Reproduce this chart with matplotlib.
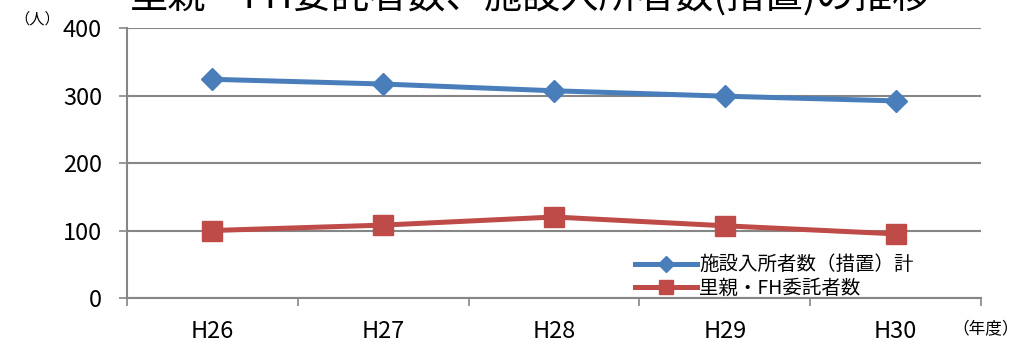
import matplotlib.pyplot as plt
from matplotlib.ticker import FixedLocator

plt.rcParams['font.family'] = ['Noto Sans CJK JP', 'DejaVu Sans']

years = ['H26', 'H27', 'H28', 'H29', 'H30']
shisetsu = [324, 317, 307, 299, 292]
satooya = [100, 108, 120, 107, 95]

fig = plt.figure(figsize=(10.33, 3.47), dpi=100)
ax = fig.add_axes([0.1229, 0.1412, 0.8268, 0.7781])

x = range(len(years))
ax.plot(x, shisetsu, color='#4A7EBB', lw=3.6, marker='D', ms=11,
        label='施設入所者数（措置）計', zorder=3)
ax.plot(x, satooya, color='#BE4B48', lw=3.6, marker='s', ms=15,
        label='里親・FH委託者数', zorder=3)

ax.set_xlim(-0.5, 4.5)
ax.set_ylim(0, 400)
ax.set_yticks([0, 100, 200, 300, 400])
ax.set_xticks(list(x))
ax.set_xticklabels(years)
ax.xaxis.set_minor_locator(FixedLocator([i - 0.5 for i in range(6)]))
ax.tick_params(axis='x', which='major', length=0, pad=16, labelsize=17)
ax.tick_params(axis='x', which='minor', length=6, color='#868686', width=1.2)
ax.tick_params(axis='y', length=6, color='#868686', width=1.2, labelsize=17, pad=12)

ax.grid(axis='y', color='#868686', lw=1.5)
ax.set_axisbelow(True)
for s in ['top', 'right']:
    ax.spines[s].set_visible(False)
for s in ['left', 'bottom']:
    ax.spines[s].set_color('#868686')
    ax.spines[s].set_linewidth(1.5)

ax.legend(loc='lower right', bbox_to_anchor=(0.937, -0.055), frameon=False,
          fontsize=14, handlelength=3.2, handletextpad=0.1, labelspacing=0.15,
          borderpad=0.2, markerscale=0.7)

fig.text(0.014, 0.945, '（人）', fontsize=11, ha='left', va='center')
fig.text(0.922, 0.05, '（年度）', fontsize=12, ha='left', va='center')
fig.text(0.514, 1.006, '里親・FH委託者数、施設入所者数(措置)の推移', fontsize=27.5,
         ha='center', va='center')

fig.savefig('out.png', dpi=100)
